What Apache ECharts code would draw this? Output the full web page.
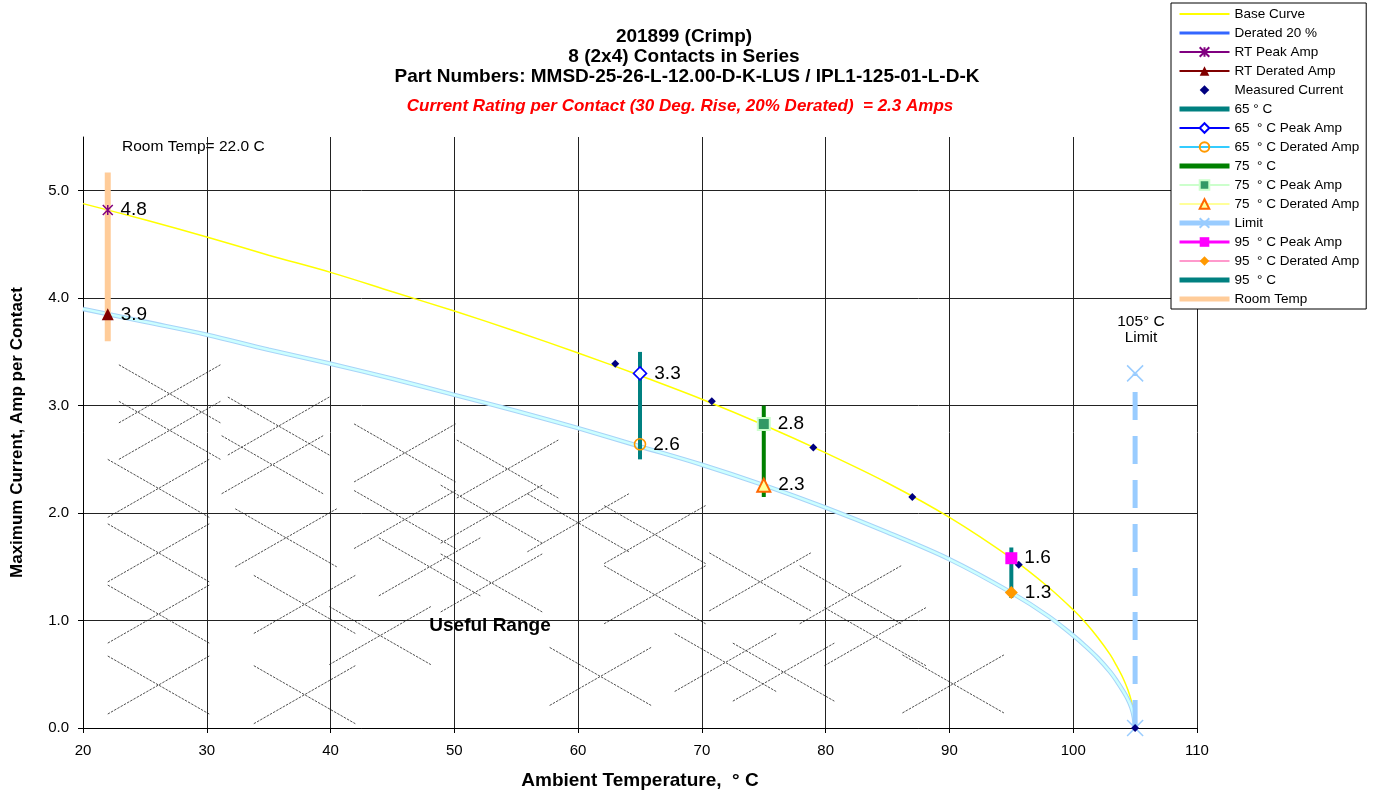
<!DOCTYPE html>
<html><head><meta charset="utf-8">
<script src="https://cdn.jsdelivr.net/npm/echarts@6/dist/echarts.min.js"></script>
<style>html,body{margin:0;padding:0;background:#fff}#c{width:1374px;height:795px}</style>
</head><body><div id="c"></div>
<script>
const FONT = "Arial, 'Liberation Sans', sans-serif";

// ---- data ----
const curveTemp    = [20, 25, 30, 35, 40, 45, 50, 55, 60, 65, 70, 75, 80, 85, 90, 95, 98, 100, 101, 102, 103, 103.5, 104, 104.4, 104.7, 104.9, 105];
const baseCurve    = [4.88, 4.73, 4.57, 4.40, 4.24, 4.06, 3.88, 3.69, 3.49, 3.28, 3.06, 2.82, 2.56, 2.28, 1.96, 1.58, 1.31, 1.10, 0.98, 0.84, 0.68, 0.58, 0.47, 0.36, 0.25, 0.14, 0];
const deratedCurve = [3.90, 3.78, 3.66, 3.52, 3.39, 3.25, 3.10, 2.95, 2.79, 2.62, 2.45, 2.26, 2.05, 1.82, 1.57, 1.26, 1.04, 0.86, 0.76, 0.65, 0.52, 0.44, 0.35, 0.27, 0.19, 0.10, 0];
const measuredTemp = [63, 70.8, 79, 87, 95.6, 105];
const measuredAmp  = [3.39, 3.04, 2.61, 2.15, 1.52, 0];
const pointTemp    = [22, 65, 75, 95];
const peakAmp      = [4.82, 3.30, 2.83, 1.58];
const peakLabel    = ['4.8', '3.3', '2.8', '1.6'];
const deratedAmp   = [3.85, 2.64, 2.26, 1.26];
const deratedLabel = ['3.9', '2.6', '2.3', '1.3'];
const bandLow      = [3.60, 2.50, 2.15, 1.21];
const bandHigh     = [5.17, 3.50, 3.00, 1.68];
const limitTemp = 105;
const limitAmp  = [0, 3.3];
const xRange = [20, 110, 10];
const yRange = [0, 5.5, 1];
// decorative "useful range" hatch: centres of dashed crosses (data units)
const hatchCentres = [
  [27.0,3.11],[27.0,2.77],[26.1,2.23],[26.1,1.63],[26.1,1.06],[26.1,0.40],
  [35.8,2.81],[35.3,2.45],[36.4,1.77],[37.9,1.15],[37.9,0.31],[44.0,0.86],
  [46.0,2.56],[46.0,1.94],[48.0,1.50],[54.3,2.41],[53.0,1.99],[53.0,1.35],
  [60.0,1.91],[66.2,1.80],[66.2,1.24],[74.7,1.36],[61.8,0.48],[71.9,0.61],
  [76.6,0.52],[82.0,1.24],[84.0,0.85],[90.3,0.41]
];

const pairs = (xs, ys) => xs.map((x, i) => [x, ys[i]]);
const lbl = { show: true, position: 'right', distance: 7, fontSize: 19, color: '#000', fontFamily: FONT };
const pt = (i, arr, labels) => ({ value: [pointTemp[i], arr[i]], label: Object.assign({}, lbl, { formatter: labels[i] }) });
const band = i => [[pointTemp[i], bandLow[i]], [pointTemp[i], bandHigh[i]]];
const X16 = 'path://M0,0L16,16M16,0L0,16';
const STAR = 'path://M0,0L10,10M10,0L0,10M5,0L5,10';

const chart = echarts.init(document.getElementById('c'), null, { renderer: 'canvas' });

const legendNames = ['Base Curve', 'Derated 20 %', 'RT Peak Amp', 'RT Derated Amp', 'Measured Current', '65 ° C',
  '65  ° C Peak Amp', '65  ° C Derated Amp', '75  ° C', '75  ° C Peak Amp', '75  ° C Derated Amp', 'Limit',
  '95  ° C Peak Amp', '95  ° C Derated Amp', '95  ° C', 'Room Temp'];
const noSymbol = ['Base Curve', 'Derated 20 %', '65 ° C', '75  ° C', '95  ° C', 'Room Temp'];
const legendLine = {
  'Derated 20 %': { color: '#3366ff', width: 3 },
  'Limit': { type: 'solid', width: 5, color: '#99ccff' },
  '65 ° C': { color: '#008080', width: 5 },
  '75  ° C': { color: '#008000', width: 5 },
  '95  ° C': { color: '#008080', width: 5 },
  'Room Temp': { color: '#ffcc99', width: 5 },
  '95  ° C Peak Amp': { color: '#ff00ff', width: 3 }
};

const legendData = legendNames.map(n => {
  const d = { name: n };
  if (noSymbol.includes(n)) d.itemStyle = { opacity: 0 };
  if (legendLine[n]) d.lineStyle = legendLine[n];
  return d;
});

chart.setOption({
  animation: false,
  backgroundColor: '#fff',
  grid: { left: 83, right: 177, top: 137, bottom: 66 },
  xAxis: {
    type: 'value', min: xRange[0], max: xRange[1], interval: xRange[2],
    name: 'Ambient Temperature,  ° C', nameLocation: 'middle', nameGap: 43,
    nameTextStyle: { fontSize: 19, fontWeight: 'bold', color: '#000', fontFamily: FONT },
    axisLine: { show: true, lineStyle: { color: '#000', width: 1 } },
    axisTick: { show: true, length: 5, lineStyle: { color: '#000' } },
    axisLabel: { fontSize: 15, color: '#000', fontFamily: FONT, margin: 15 },
    splitLine: { show: true, lineStyle: { color: '#222', width: 1 } }
  },
  yAxis: {
    type: 'value', min: yRange[0], max: yRange[1], interval: yRange[2],
    name: 'Maximum Current, Amp per Contact', nameLocation: 'middle', nameGap: 57,
    nameTextStyle: { fontSize: 17, fontWeight: 'bold', color: '#000', fontFamily: FONT },
    axisLine: { show: true, lineStyle: { color: '#000', width: 1 } },
    axisTick: { show: true, length: 5, lineStyle: { color: '#000' } },
    axisLabel: { fontSize: 15, color: '#000', fontFamily: FONT, margin: 14, showMaxLabel: false,
      formatter: v => v.toFixed(1) },
    splitLine: { show: true, showMaxLine: false, lineStyle: { color: '#222', width: 1 } }
  },
  legend: {
    orient: 'vertical', left: 1171, top: 3, data: legendData,
    itemWidth: 50, itemHeight: 12, itemGap: 5, itemTextGap: 4,
    padding: [4, 7, 3, 6], borderColor: '#000', borderWidth: 1, backgroundColor: '#fff',
    textStyle: { fontSize: 13.5, color: '#000', fontFamily: FONT },
    selectedMode: false
  },
  graphic: [
    { type: 'text', x: 684, y: 37, style: { text: '201899 (Crimp)', fontSize: 19, fontWeight: 'bold', fontFamily: FONT, fill: '#000', align: 'center', verticalAlign: 'middle' } },
    { type: 'text', x: 684, y: 57, style: { text: '8 (2x4) Contacts in Series', fontSize: 19, fontWeight: 'bold', fontFamily: FONT, fill: '#000', align: 'center', verticalAlign: 'middle' } },
    { type: 'text', x: 687, y: 77, style: { text: 'Part Numbers: MMSD-25-26-L-12.00-D-K-LUS / IPL1-125-01-L-D-K', fontSize: 19, fontWeight: 'bold', fontFamily: FONT, fill: '#000', align: 'center', verticalAlign: 'middle' } },
    { type: 'text', x: 680, y: 106, style: { text: 'Current Rating per Contact (30 Deg. Rise, 20% Derated)  = 2.3 Amps', fontSize: 17, fontWeight: 'bold', fontStyle: 'italic', fontFamily: FONT, fill: '#ff0000', align: 'center', verticalAlign: 'middle' } },
    { type: 'text', x: 122, y: 147, style: { text: 'Room Temp= 22.0 C', fontSize: 15.5, fontFamily: FONT, fill: '#000', align: 'left', verticalAlign: 'middle' } },
    { type: 'text', x: 1141, y: 322, style: { text: '105° C', fontSize: 15.5, fontFamily: FONT, fill: '#000', align: 'center', verticalAlign: 'middle' } },
    { type: 'text', x: 1141, y: 338, style: { text: 'Limit', fontSize: 15.5, fontFamily: FONT, fill: '#000', align: 'center', verticalAlign: 'middle' } },
    { type: 'text', x: 490, y: 626, z: 10, style: { text: 'Useful Range', fontSize: 19, fontWeight: 'bold', fontFamily: FONT, fill: '#000', align: 'center', verticalAlign: 'middle' } }
  ],
  series: [
    { type: 'custom', name: 'hatch', silent: true, z: 1, coordinateSystem: 'cartesian2d', data: hatchCentres,
      renderItem: (params, api) => {
        const cx = api.value(0), cy = api.value(1), hw = 4.1, hh = 0.27;
        const a = api.coord([cx - hw, cy + hh]), b = api.coord([cx + hw, cy - hh]);
        const c = api.coord([cx - hw, cy - hh]), d = api.coord([cx + hw, cy + hh]);
        const st = { stroke: '#222', lineWidth: 0.8, lineDash: [2.5, 1.2] };
        return { type: 'group', children: [
          { type: 'line', shape: { x1: a[0], y1: a[1], x2: b[0], y2: b[1] }, style: st },
          { type: 'line', shape: { x1: c[0], y1: c[1], x2: d[0], y2: d[1] }, style: st }
        ] };
      } },
    { type: 'line', name: 'Base Curve', z: 3, data: pairs(curveTemp, baseCurve), smooth: 0.35, symbol: 'none',
      lineStyle: { color: '#ffff00', width: 1.5 }, itemStyle: { color: '#ffff00' } },
    { type: 'line', name: 'Derated 20 %', z: 3, data: pairs(curveTemp, deratedCurve), smooth: 0.35, symbol: 'none',
      lineStyle: { color: '#a8d4f8', width: 4.5 }, itemStyle: { color: '#3366ff' } },
    { type: 'line', name: 'derated-inner', z: 3, data: pairs(curveTemp, deratedCurve), smooth: 0.35, symbol: 'none',
      lineStyle: { color: '#ccffff', width: 2.4 } },
    { type: 'line', name: 'Room Temp', z: 4, data: band(0), symbol: 'none', lineStyle: { color: '#ffcc99', width: 6 }, itemStyle: { color: '#ffcc99' } },
    { type: 'line', name: '65 ° C', z: 4, data: band(1), symbol: 'none', lineStyle: { color: '#008080', width: 4 }, itemStyle: { color: '#008080' } },
    { type: 'line', name: '75  ° C', z: 4, data: band(2), symbol: 'none', lineStyle: { color: '#008000', width: 4 }, itemStyle: { color: '#008000' } },
    { type: 'line', name: '95  ° C', z: 4, data: band(3), symbol: 'none', lineStyle: { color: '#008080', width: 4 }, itemStyle: { color: '#008080' } },
    { type: 'line', name: 'Limit', z: 4, data: [[limitTemp, limitAmp[0]], [limitTemp, limitAmp[1]]], symbol: X16, symbolSize: 16,
      lineStyle: { color: '#99ccff', width: 5, type: [28, 16] }, itemStyle: { color: 'rgba(0,0,0,0)', borderColor: '#99ccff', borderWidth: 1.5 } },
    { type: 'line', name: 'Measured Current', z: 5, data: pairs(measuredTemp, measuredAmp), symbol: 'diamond', symbolSize: 8,
      lineStyle: { color: 'rgba(0,0,0,0)', width: 0 }, itemStyle: { color: '#000080' } },
    { type: 'line', name: 'RT Peak Amp', z: 6, data: [pt(0, peakAmp, peakLabel)], symbol: STAR, symbolSize: 10,
      lineStyle: { color: '#800080', width: 1.5 }, itemStyle: { color: 'rgba(0,0,0,0)', borderColor: '#800080', borderWidth: 1.5 } },
    { type: 'line', name: 'RT Derated Amp', z: 6, data: [pt(0, deratedAmp, deratedLabel)], symbol: 'triangle', symbolSize: 12,
      lineStyle: { color: '#800000', width: 1.5 }, itemStyle: { color: '#800000' } },
    { type: 'line', name: '65  ° C Peak Amp', z: 6, data: [pt(1, peakAmp, peakLabel)], symbol: 'diamond', symbolSize: 13,
      lineStyle: { color: '#0000ff', width: 1.5 }, itemStyle: { color: '#ffffff', borderColor: '#0000ff', borderWidth: 1.6 } },
    { type: 'line', name: '65  ° C Derated Amp', z: 6, data: [pt(1, deratedAmp, deratedLabel)], symbol: 'circle', symbolSize: 11,
      lineStyle: { color: '#33ccff', width: 1.5 }, itemStyle: { color: 'rgba(255,255,255,0)', borderColor: '#ff9900', borderWidth: 1.6 } },
    { type: 'line', name: '75  ° C Peak Amp', z: 6, data: [pt(2, peakAmp, peakLabel)], symbol: 'rect', symbolSize: 12,
      lineStyle: { color: '#ccffcc', width: 1.5 }, itemStyle: { color: '#339966', borderColor: '#ccffcc', borderWidth: 2 } },
    { type: 'line', name: '75  ° C Derated Amp', z: 6, data: [pt(2, deratedAmp, deratedLabel)], symbol: 'triangle', symbolSize: 13,
      lineStyle: { color: '#ffff99', width: 1.5 }, itemStyle: { color: '#ffff99', borderColor: '#ff6600', borderWidth: 2 } },
    { type: 'line', name: '95  ° C Peak Amp', z: 6, data: [pt(3, peakAmp, peakLabel)], symbol: 'rect', symbolSize: 12,
      lineStyle: { color: '#ff00ff', width: 3 }, itemStyle: { color: '#ff00ff' } },
    { type: 'line', name: '95  ° C Derated Amp', z: 6, data: [pt(3, deratedAmp, deratedLabel)], symbol: 'diamond', symbolSize: 13,
      lineStyle: { color: '#ff99cc', width: 1.5 }, itemStyle: { color: '#ff9900' } }
  ]
});
</script></body></html>
